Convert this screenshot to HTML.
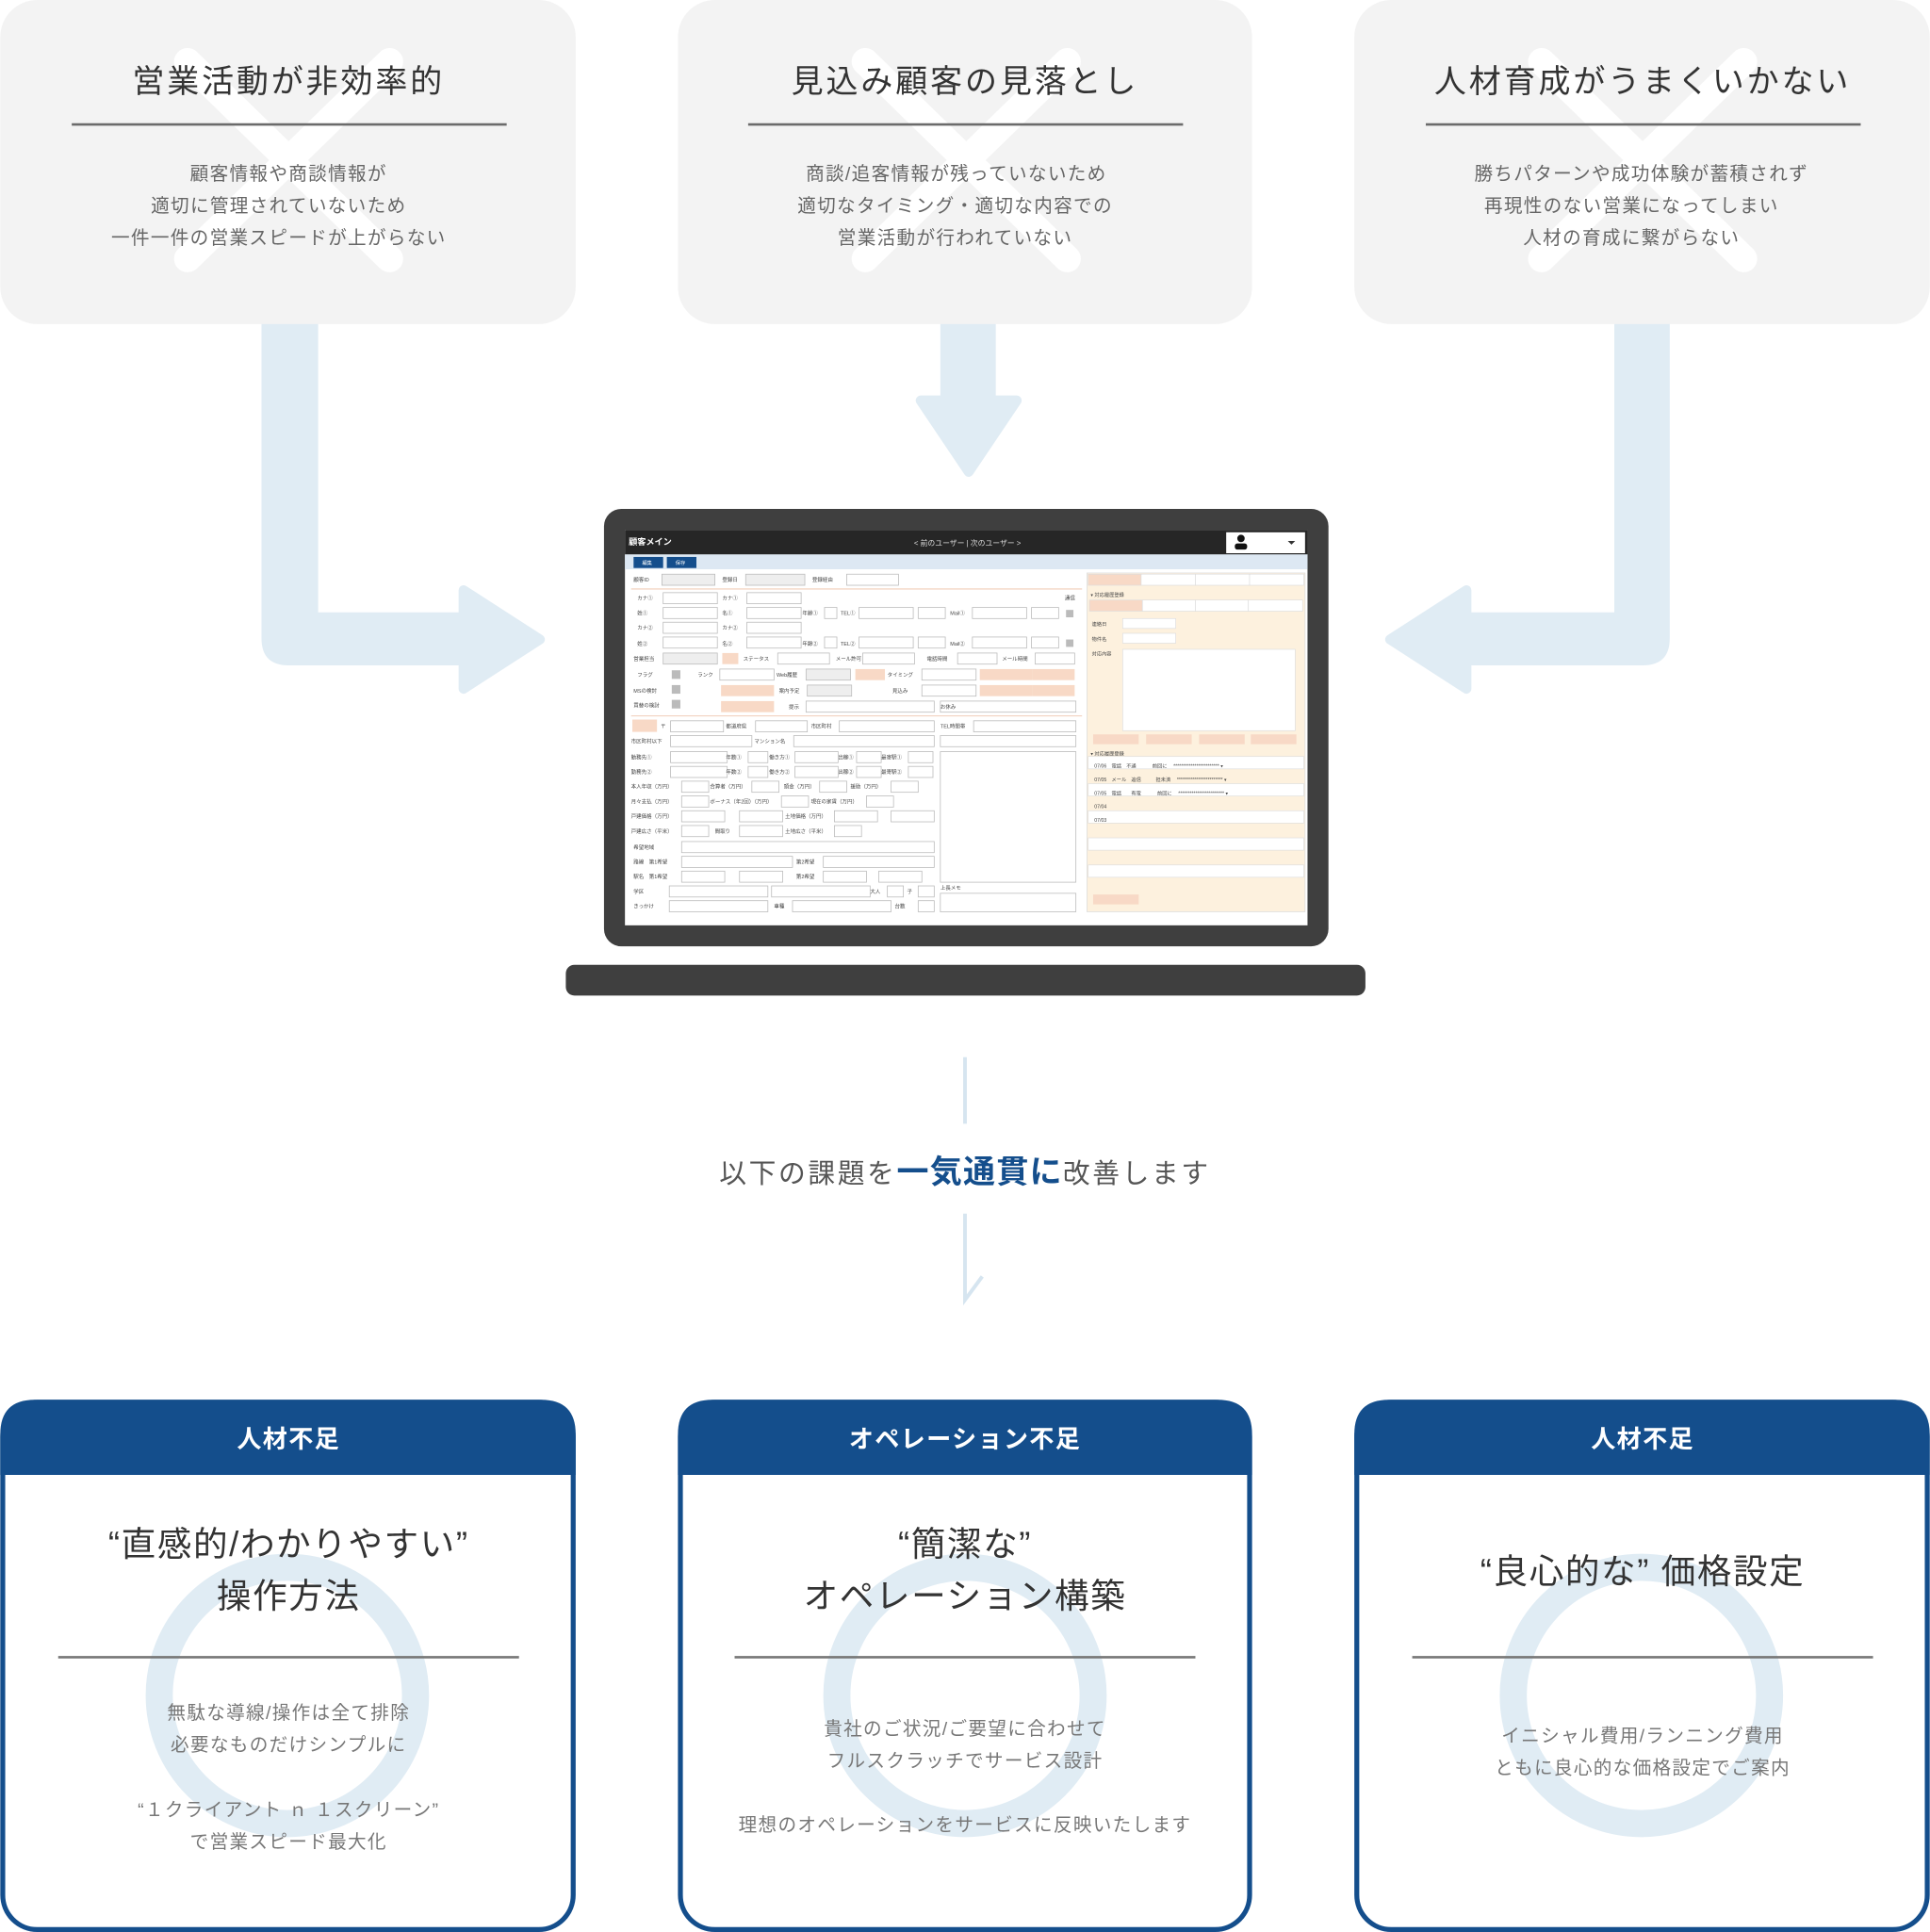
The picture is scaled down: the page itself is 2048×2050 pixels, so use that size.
<!DOCTYPE html>
<html><head><meta charset="utf-8"><style>
html,body{margin:0;padding:0;background:#fff;}
svg{display:block;}
text{font-family:"Liberation Sans","Noto Sans CJK JP",sans-serif;}
</style></head><body>
<svg width="2048" height="2050" viewBox="0 0 1566 1568" xmlns="http://www.w3.org/2000/svg">
<!-- arrows -->
<g fill="#e0ecf4" stroke="#e0ecf4" stroke-linejoin="round">
<path d="M212 250 V518 Q212 540 234 540 H374 V497 H258 V250 Z" stroke-width="0"/>
<path d="M376 479 L438 519 L376 559 Z" stroke-width="8"/>
<rect x="763" y="250" width="45" height="75" stroke-width="0"/>
<path d="M747 325 L825 325 L786 383 Z" stroke-width="8"/>
<path d="M1355 250 V518 Q1355 540 1333 540 H1192 V497 H1310 V250 Z" stroke-width="0"/>
<path d="M1190 479 L1128 519 L1190 559 Z" stroke-width="8"/>
</g>
<!-- top boxes -->
<g>
<rect x="0" y="0" width="467" height="263" rx="30" fill="#f3f3f3"/>
<rect x="550" y="0" width="466" height="263" rx="30" fill="#f3f3f3"/>
<rect x="1099" y="0" width="467" height="263" rx="30" fill="#f3f3f3"/>
<g stroke="#fff" stroke-width="22" stroke-linecap="round">
<line x1="152" y1="50" x2="316" y2="210"/><line x1="316" y1="50" x2="152" y2="210"/>
<line x1="702" y1="50" x2="866" y2="210"/><line x1="866" y1="50" x2="702" y2="210"/>
<line x1="1251" y1="50" x2="1415" y2="210"/><line x1="1415" y1="50" x2="1251" y2="210"/>
</g>
<g stroke="#6b6b6b" stroke-width="2">
<line x1="58" y1="101" x2="411" y2="101"/><line x1="607" y1="101" x2="960" y2="101"/><line x1="1157" y1="101" x2="1510" y2="101"/>
</g>
<g font-size="26" fill="#333" text-anchor="middle" letter-spacing="2.2">
<text x="234" y="75">営業活動が非効率的</text>
<text x="783" y="75">見込み顧客の見落とし</text>
<text x="1333" y="75">人材育成がうまくいかない</text>
</g>
<g font-size="15" fill="#666" text-anchor="middle" letter-spacing="1">
<text x="234" y="146">顧客情報や商談情報が</text>
<text x="226" y="172">適切に管理されていないため</text>
<text x="226" y="198">一件一件の営業スピードが上がらない</text>
<text x="776" y="146">商談/追客情報が残っていないため</text>
<text x="775" y="172">適切なタイミング・適切な内容での</text>
<text x="775" y="198">営業活動が行われていない</text>
<text x="1332" y="146">勝ちパターンや成功体験が蓄積されず</text>
<text x="1324" y="172">再現性のない営業になってしまい</text>
<text x="1324" y="198">人材の育成に繋がらない</text>
</g>
</g>
<!-- laptop -->
<rect x="490" y="413" width="588" height="355" rx="14" fill="#3f3f3f"/>
<rect x="459" y="783" width="649" height="25" rx="7" fill="#3f3f3f"/>
<rect x="507" y="430" width="554" height="321" fill="#fff"/>
<rect x="507" y="430" width="554" height="20" fill="#262626"/>
<text x="510" y="442" font-size="7" fill="#fff" font-weight="bold">顧客メイン</text>
<text x="785" y="443" font-size="6" fill="#ddd" text-anchor="middle">&lt; 前のユーザー | 次のユーザー &gt;</text>
<rect x="995" y="432" width="64" height="17" fill="#fff"/>
<circle cx="1007" cy="437" r="3" fill="#111"/><rect x="1002" y="441" width="10" height="5" rx="2" fill="#111"/>
<path d="M1045 439 h6 l-3 3z" fill="#333"/>
<rect x="507" y="450" width="554" height="12" fill="#dde8f3"/>
<rect x="514" y="452" width="24" height="9" fill="#144e8c"/><rect x="541" y="452" width="24" height="9" fill="#144e8c"/>
<g font-size="4" fill="#fff"><text x="521" y="458">編集</text><text x="548" y="458">保存</text></g>
<!-- left form -->
<g fill="#fff" stroke="#bbb" stroke-width="0.6">
<rect x="537" y="466" width="43" height="9" fill="#eee"/><rect x="605" y="466" width="48" height="9" fill="#eee"/><rect x="687" y="466" width="42" height="9"/>
<rect x="538" y="481" width="44" height="9"/><rect x="606" y="481" width="44" height="9"/>
<rect x="538" y="493" width="44" height="9"/><rect x="606" y="493" width="44" height="9"/><rect x="669" y="493" width="10" height="9"/><rect x="697" y="493" width="44" height="9"/><rect x="745" y="493" width="22" height="9"/><rect x="789" y="493" width="44" height="9"/><rect x="837" y="493" width="22" height="9"/>
<rect x="538" y="505" width="44" height="9"/><rect x="606" y="505" width="44" height="9"/>
<rect x="538" y="517" width="44" height="9"/><rect x="606" y="517" width="44" height="9"/><rect x="669" y="517" width="10" height="9"/><rect x="697" y="517" width="44" height="9"/><rect x="745" y="517" width="22" height="9"/><rect x="789" y="517" width="44" height="9"/><rect x="837" y="517" width="22" height="9"/>
<rect x="538" y="530" width="44" height="9" fill="#eee"/><rect x="631" y="530" width="42" height="9"/><rect x="700" y="530" width="42" height="9"/><rect x="777" y="530" width="32" height="9"/><rect x="840" y="530" width="32" height="9"/>
<rect x="584" y="543" width="44" height="9"/><rect x="654" y="543" width="36" height="9" fill="#eee"/><rect x="748" y="543" width="44" height="9"/>
<rect x="655" y="556" width="36" height="9" fill="#eee"/><rect x="748" y="556" width="44" height="9"/>
<rect x="654" y="569" width="104" height="9"/><rect x="763" y="569" width="110" height="9"/>
<rect x="544" y="585" width="43" height="9"/><rect x="613" y="585" width="42" height="9"/><rect x="681" y="585" width="77" height="9"/><rect x="790" y="585" width="83" height="9"/>
<rect x="544" y="597" width="66" height="9"/><rect x="644" y="597" width="114" height="9"/><rect x="763" y="597" width="110" height="9"/>
<rect x="763" y="610" width="110" height="106"/>
<rect x="763" y="725" width="110" height="15"/>
</g>
<g fill="#fff" stroke="#bbb" stroke-width="0.6">
<rect x="544" y="610" width="46" height="9"/><rect x="607" y="610" width="16" height="9"/><rect x="645" y="610" width="35" height="9"/><rect x="695" y="610" width="20" height="9"/><rect x="737" y="610" width="20" height="9"/>
<rect x="544" y="622" width="46" height="9"/><rect x="607" y="622" width="16" height="9"/><rect x="645" y="622" width="35" height="9"/><rect x="695" y="622" width="20" height="9"/><rect x="737" y="622" width="20" height="9"/>
<rect x="553" y="634" width="22" height="9"/><rect x="610" y="634" width="22" height="9"/><rect x="665" y="634" width="22" height="9"/><rect x="723" y="634" width="22" height="9"/>
<rect x="553" y="646" width="22" height="9"/><rect x="634" y="646" width="22" height="9"/><rect x="703" y="646" width="22" height="9"/>
<rect x="553" y="658" width="35" height="9"/><rect x="600" y="658" width="35" height="9"/><rect x="677" y="658" width="35" height="9"/><rect x="723" y="658" width="35" height="9"/>
<rect x="553" y="670" width="22" height="9"/><rect x="600" y="670" width="35" height="9"/><rect x="677" y="670" width="22" height="9"/>
<rect x="553" y="683" width="205" height="9"/>
<rect x="553" y="695" width="90" height="9"/><rect x="668" y="695" width="90" height="9"/>
<rect x="553" y="707" width="35" height="9"/><rect x="600" y="707" width="35" height="9"/><rect x="668" y="707" width="35" height="9"/><rect x="713" y="707" width="35" height="9"/>
<rect x="543" y="719" width="80" height="9"/><rect x="626" y="719" width="80" height="9"/><rect x="720" y="719" width="13" height="9"/><rect x="745" y="719" width="13" height="9"/>
<rect x="543" y="731" width="80" height="9"/><rect x="643" y="731" width="80" height="9"/><rect x="745" y="731" width="13" height="9"/>
</g>
<g fill="#f8d9c6">
<rect x="586" y="530" width="13" height="9"/><rect x="585" y="556" width="43" height="9"/><rect x="585" y="569" width="43" height="9"/><rect x="694" y="543" width="24" height="9"/><rect x="795" y="543" width="43" height="9"/><rect x="838" y="543" width="34" height="9"/><rect x="795" y="556" width="43" height="9"/><rect x="838" y="556" width="34" height="9"/><rect x="513" y="584" width="20" height="10"/>
</g>
<g fill="#bbb"><rect x="545" y="544" width="7" height="7"/><rect x="545" y="556" width="7" height="7"/><rect x="545" y="568" width="7" height="7"/><rect x="865" y="495" width="6" height="6"/><rect x="865" y="519" width="6" height="6"/></g>
<line x1="512" y1="478" x2="878" y2="478" stroke="#f1cdb8" stroke-width="0.8"/>
<line x1="512" y1="581" x2="878" y2="581" stroke="#f1cdb8" stroke-width="0.8"/>
<g font-size="4.2" fill="#444">
<text x="514" y="472">顧客ID</text><text x="586" y="472">登録日</text><text x="659" y="472">登録経由</text>
<text x="517" y="487">カナ①</text><text x="586" y="487">カナ①</text><text x="864" y="487">通信</text>
<text x="517" y="499">姓①</text><text x="586" y="499">名①</text><text x="651" y="499">年齢①</text><text x="682" y="499">TEL①</text><text x="771" y="499">Mail①</text>
<text x="517" y="511">カナ②</text><text x="586" y="511">カナ②</text>
<text x="517" y="524">姓②</text><text x="586" y="524">名②</text><text x="651" y="524">年齢②</text><text x="682" y="524">TEL②</text><text x="771" y="524">Mail②</text>
<text x="514" y="536">営業担当</text><text x="603" y="536">ステータス</text><text x="678" y="536">メール許可</text><text x="752" y="536">電話時間</text><text x="813" y="536">メール時間</text>
<text x="517" y="549">フラグ</text><text x="566" y="549">ランク</text><text x="630" y="549">Web履歴</text><text x="720" y="549">タイミング</text>
<text x="514" y="562">MSの検討</text><text x="632" y="562">案内予定</text><text x="724" y="562">見込み</text>
<text x="514" y="574">買替の検討</text><text x="640" y="575">提示</text><text x="763" y="575">お休み</text>
<text x="536" y="591">〒</text><text x="589" y="591">都道府県</text><text x="658" y="591">市区町村</text><text x="763" y="591">TEL時間帯</text>
<text x="512" y="603">市区町村以下</text><text x="612" y="603">マンション名</text>
<text x="512" y="616">勤務先①</text><text x="589" y="616">年数①</text><text x="624" y="616">働き方①</text><text x="680" y="616">出稼①</text><text x="715" y="616">最寄駅①</text>
<text x="512" y="628">勤務先②</text><text x="589" y="628">年数②</text><text x="624" y="628">働き方②</text><text x="680" y="628">出稼②</text><text x="715" y="628">最寄駅②</text>
<text x="512" y="640">本人年収（万円）</text><text x="576" y="640">合算者（万円）</text><text x="636" y="640">頭金（万円）</text><text x="690" y="640">援助（万円）</text>
<text x="512" y="652">月々支払（万円）</text><text x="576" y="652">ボーナス（年2回）（万円）</text><text x="658" y="652">現在の家賃（万円）</text>
<text x="512" y="664">戸建価格（万円）</text><text x="637" y="664">土地価格（万円）</text>
<text x="512" y="676">戸建広さ（平米）</text><text x="580" y="676">間取り</text><text x="637" y="676">土地広さ（平米）</text>
<text x="514" y="689">希望地域</text><text x="514" y="701">路線　第1希望</text><text x="646" y="701">第2希望</text>
<text x="514" y="713">駅名　第1希望</text><text x="646" y="713">第2希望</text>
<text x="514" y="725">学区</text><text x="706" y="725">大人</text><text x="736" y="725">子</text><text x="763" y="722">上長メモ</text>
<text x="514" y="737">きっかけ</text><text x="628" y="737">車種</text><text x="726" y="737">台数</text>
</g>
<!-- right panel -->
<rect x="882" y="465" width="177" height="275" fill="#fdf1de" stroke="#ddd" stroke-width="0.6"/>
<g fill="#fff" stroke="#ddd" stroke-width="0.5">
<rect x="883" y="466" width="43" height="9" fill="#f8d9c6"/><rect x="926" y="466" width="44" height="9"/><rect x="970" y="466" width="44" height="9"/><rect x="1014" y="466" width="44" height="9"/>
<rect x="884" y="487" width="43" height="9" fill="#f8d9c6"/><rect x="927" y="487" width="43" height="9"/><rect x="970" y="487" width="43" height="9"/><rect x="1013" y="487" width="44" height="9"/>
<rect x="911" y="502" width="43" height="8"/><rect x="911" y="514" width="43" height="8"/>
<rect x="911" y="527" width="140" height="66"/>
<rect x="883" y="614" width="175" height="10"/><rect x="883" y="636" width="175" height="10"/><rect x="883" y="658" width="175" height="10"/><rect x="883" y="680" width="175" height="10"/><rect x="883" y="702" width="175" height="10"/>
</g>
<g fill="#f8d9c6"><rect x="887" y="596" width="37" height="8"/><rect x="930" y="596" width="37" height="8"/><rect x="973" y="596" width="37" height="8"/><rect x="1015" y="596" width="37" height="8"/><rect x="887" y="726" width="37" height="8"/></g>
<g font-size="4" fill="#444">
<text x="885" y="484">▾ 対応履歴登録</text><text x="886" y="508">連絡日</text><text x="886" y="520">物件名</text><text x="886" y="532">対応内容</text>
<text x="885" y="613">▾ 対応履歴登録</text>
<text x="888" y="623">07/06　電話　不通　　　 前回に　 ************************ ▾</text>
<text x="888" y="634">07/05　メール　追信　　　担未済　 ************************ ▾</text>
<text x="888" y="645">07/05　電話　　有電　　　 前回に　 ************************ ▾</text>
<text x="888" y="656">07/04</text><text x="888" y="667">07/03</text>
</g>
<!-- middle text -->
<line x1="783" y1="858" x2="783" y2="912" stroke="#d6e5f0" stroke-width="3"/>
<path d="M783 985 V1055 L797 1036" fill="none" stroke="#d6e5f0" stroke-width="3"/>
<text x="783" y="960" text-anchor="middle" font-size="22" fill="#555" letter-spacing="2">以下の課題を<tspan font-size="26" font-weight="bold" fill="#144e8c" letter-spacing="1">一気通貫に</tspan>改善します</text>
<!-- bottom boxes -->
<g>
<g fill="none" stroke="#144e8c" stroke-width="4">
<rect x="2" y="1138" width="463" height="428" rx="28"/><rect x="552" y="1138" width="462" height="428" rx="28"/><rect x="1101" y="1138" width="463" height="428" rx="28"/>
</g>
<g fill="#144e8c">
<path d="M0 1197 V1164 Q0 1136 28 1136 H439 Q467 1136 467 1164 V1197 Z"/>
<path d="M550 1197 V1164 Q550 1136 578 1136 H988 Q1016 1136 1016 1164 V1197 Z"/>
<path d="M1099 1197 V1164 Q1099 1136 1127 1136 H1538 Q1566 1136 1566 1164 V1197 Z"/>
</g>
<g font-size="20" font-weight="bold" fill="#fff" text-anchor="middle" letter-spacing="1">
<text x="234" y="1175">人材不足</text><text x="783" y="1175">オペレーション不足</text><text x="1333" y="1175">人材不足</text>
</g>
<g fill="none" stroke="#e0ecf4" stroke-width="22">
<ellipse cx="233" cy="1376" rx="104" ry="104"/><ellipse cx="783" cy="1376" rx="104" ry="104"/><ellipse cx="1332" cy="1376" rx="104" ry="104"/>
</g>
<g stroke="#777" stroke-width="2">
<line x1="47" y1="1345" x2="421" y2="1345"/><line x1="596" y1="1345" x2="970" y2="1345"/><line x1="1146" y1="1345" x2="1520" y2="1345"/>
</g>
<g font-size="28" fill="#333" text-anchor="middle" letter-spacing="1.2">
<text x="234" y="1263">“直感的/わかりやすい”</text><text x="234" y="1305">操作方法</text>
<text x="783" y="1263">“簡潔な”</text><text x="783" y="1305">オペレーション構築</text>
<text x="1333" y="1285">“良心的な” 価格設定</text>
</g>
<g font-size="15" fill="#777" text-anchor="middle" letter-spacing="1">
<text x="234" y="1395">無駄な導線/操作は全て排除</text><text x="234" y="1421">必要なものだけシンプルに</text>
<text x="234" y="1474">“１クライアント ｎ １スクリーン”</text><text x="234" y="1500">で営業スピード最大化</text>
<text x="783" y="1408">貴社のご状況/ご要望に合わせて</text><text x="783" y="1434">フルスクラッチでサービス設計</text>
<text x="783" y="1486">理想のオペレーションをサービスに反映いたします</text>
<text x="1333" y="1414">イニシャル費用/ランニング費用</text><text x="1333" y="1440">ともに良心的な価格設定でご案内</text>
</g>
</g>
</svg>
</body></html>
